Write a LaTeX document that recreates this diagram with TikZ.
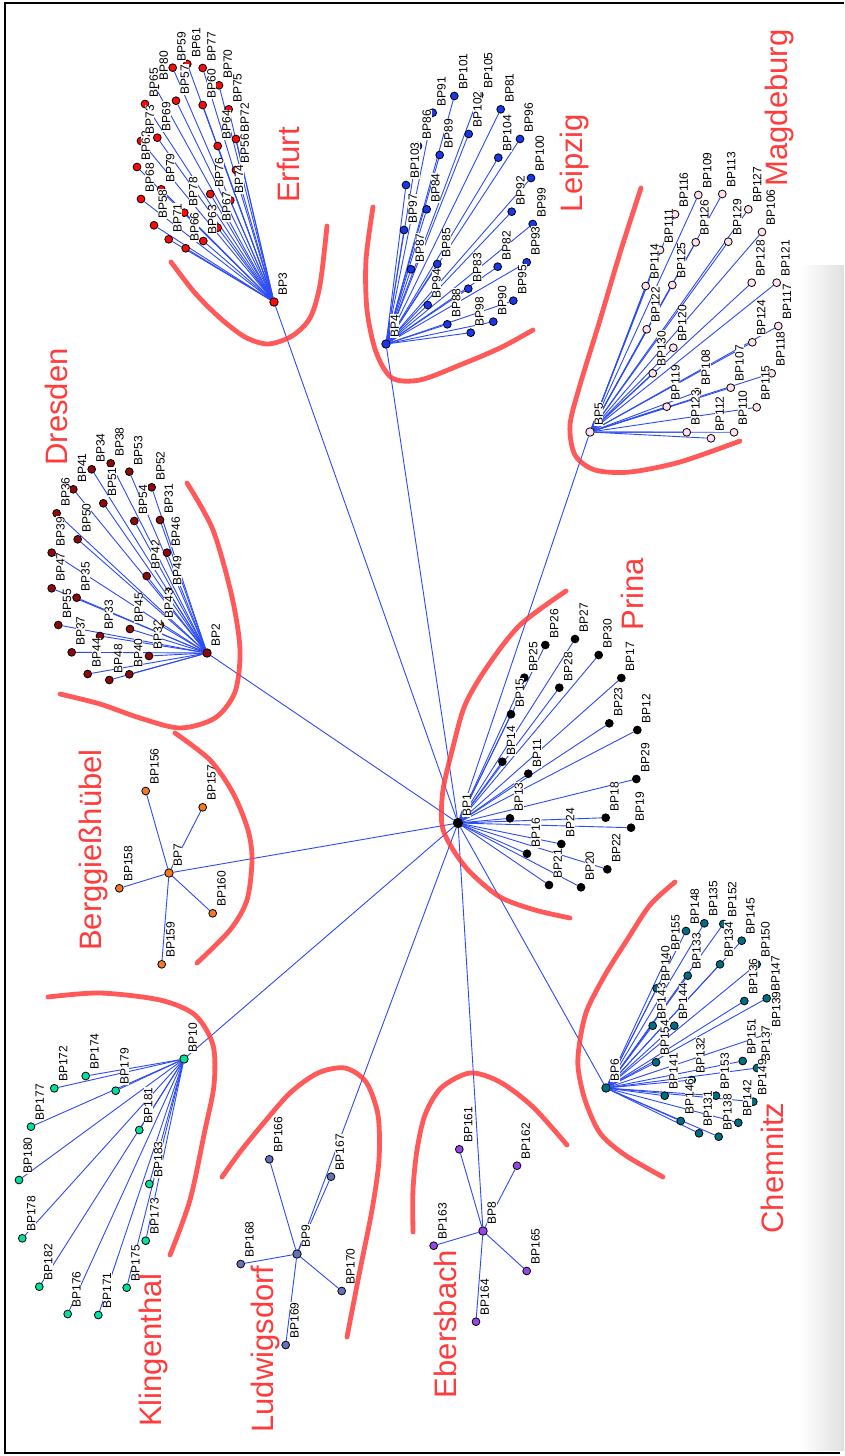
\documentclass[tikz,border=0pt]{standalone}
\usepackage{fontspec}
\setmainfont{Liberation Sans}
\pgfdeclarelayer{back}
\pgfdeclarelayer{bg}
\pgfsetlayers{back,bg,main}
\definecolor{edgeblue}{RGB}{45,75,245}
\definecolor{cityred}{RGB}{255,60,60}
\definecolor{cErf}{RGB}{250,10,10}
\definecolor{cLei}{RGB}{25,55,235}
\definecolor{cMag}{RGB}{255,225,235}
\definecolor{cDre}{RGB}{140,10,10}
\definecolor{cPri}{RGB}{0,0,0}
\definecolor{cChe}{RGB}{0,110,130}
\definecolor{cBer}{RGB}{245,120,40}
\definecolor{cEbe}{RGB}{150,70,230}
\definecolor{cLud}{RGB}{100,115,185}
\definecolor{cKli}{RGB}{0,225,160}
\begin{document}
\begin{tikzpicture}[x=1pt,y=-1pt,
  dot/.style={circle,draw=black,line width=0.8pt,minimum size=7.8pt,inner sep=0pt},
  hub/.style={dot,minimum size=8.5pt},
  edge/.style={draw=edgeblue,line width=0.9pt},
  lbl/.style={rotate=90,anchor=north west,font=\fontsize{12}{13}\selectfont,inner sep=0.4pt,fill=white},
  city/.style={rotate=90,text=cityred,font=\fontsize{31}{36}\selectfont,inner sep=0pt},
  redarc/.style={draw=cityred,line width=4.8pt,line cap=round,line join=round,opacity=0.85}]
\useasboundingbox (0,0) rectangle (844,1456);
\begin{pgfonlayer}{back}
\fill[white] (0,0) rectangle (844,1456);
\shade[left color=white,right color=black!12] (800,265) rectangle (844,1450);
\draw[black,line width=1.4pt] (844,3) -- (5,3) -- (5,1453) -- (840,1453);
\end{pgfonlayer}

% hubs
\node[hub,fill=cPri,minimum size=9.5pt] (BP1) at (458,823) {};
\node[hub,fill=cDre] (BP2) at (207,653) {};
\node[hub,fill=cErf] (BP3) at (274,302) {};
\node[hub,fill=cLei] (BP4) at (386,344) {};
\node[hub,fill=cMag] (BP5) at (590,432) {};
\node[hub,fill=cChe] (BP6) at (606,1088) {};
\node[hub,fill=cBer] (BP7) at (169,873) {};
\node[hub,fill=cEbe] (BP8) at (483,1231) {};
\node[hub,fill=cLud] (BP9) at (297,1254) {};
\node[hub,fill=cKli] (BP10) at (184,1059) {};

% Prina
\foreach \i/\x/\y in {11/528.3/773.7,12/637.3/730,13/510/818.3,14/502.3/761.7,15/511/714.3,
  16/527/853.7,17/621.3/678,18/605.7/817.7,19/631/827.7,20/581/887.3,21/549/885,22/607.3/869.3,
  23/609.3/723.3,24/561.3/844,25/524.3/677.7,26/545.3/645,27/575/639,28/559.3/687.7,29/636.3/779,30/598.7/655}
  \node[dot,fill=cPri] (BP\i) at (\x,\y) {};
% Dresden
\foreach \i/\x/\y in {34/91.7/469.3,38/110.7/463.3,53/129.3/471.7,41/73.3/489.3,52/151.7/487.3,
  51/103.3/503.3,36/56.7/513.3,54/134.3/521,31/160/520,50/77.7/539.3,39/51.7/552.7,46/167/552.7,
  42/146.7/576,47/51.7/588.3,35/76.7/597.7,49/168.3/591.7,55/58.3/625,45/130/629,43/160/625,
  33/100/636,37/71.7/652.3,32/149/656,44/87.7/674,40/129.3/674.3,48/109.3/680}
  \node[dot,fill=cDre] (BP\i) at (\x,\y) {};
% Erfurt
\foreach \i/\x/\y in {61/187.3/64,77/202.7/68,59/172.7/67.7,80/155/86.7,70/219/85.3,57/176/100.7,
  60/202.7/105,75/228.7/109.3,69/157.3/137.7,72/236/139,64/217.7/146,56/236/170,79/161.3/189.3,
  76/210.3/194,74/230.3/200.3,78/184.3/212.7,58/154/225.3,67/217.7/227.7,71/168.7/239.3,
  63/203.3/241,66/185.7/248.3,65/145/104,73/141/141,62/137/167,68/141/199}
  \node[dot,fill=cErf] (BP\i) at (\x,\y) {};
% Leipzig
\foreach \i/\x/\y in {101/454.3/96,91/432.7/112.7,105/479.3/95,81/500.7/109.3,102/468.7/134,
  96/520/139,89/439.7/155,104/498.3/157.7,103/406/185,86/418/146,100/531/178,84/426.7/209.3,
  92/511.7/211.7,97/404/230,99/532.7/224,87/411/269.3,85/437.3/264,82/497.7/266.7,93/526.7/262.3,
  83/468.3/288.7,94/427.7/305,95/513.3/300.7,88/447.3/324.3,90/493.3/321.7,98/470.7/332.7}
  \node[dot,fill=cLei] (BP\i) at (\x,\y) {};
% Magdeburg
\foreach \i/\x/\y in {109/698.3/195,113/722.3/194,116/675/214.3,127/748.3/209.3,126/695.7/242.3,
  129/728.3/241.7,106/762/232,114/645.7/286,125/672.3/285,128/751.7/282.7,121/776.7/282.7,
  122/646.7/329.3,120/673.3/347.7,117/778.3/326,124/752.3/342.3,130/652.7/373.3,118/771.7/373.3,
  107/730.7/387.7,119/666.7/406.7,115/756.7/407.3,123/686.7/432.3,110/734/432.3,112/711/438.3,
  111/660/250,108/697/392}
  \node[dot,fill=cMag] (BP\i) at (\x,\y) {};
% Chemnitz
\foreach \i/\x/\y in {135/704.3/923.3,152/723.3/924,148/686/931,145/741.7/940.7,155/666.7/957.3,
  134/720/964.3,150/756.7/964.3,133/687.7/975.7,140/656.7/988.3,136/744.3/1001,147/766.7/998.3,
  143/652.7/1025.7,144/674.3/1025.7,139/767.3/1034,154/656/1062.3,151/742.7/1061,141/664.7/1095.7,
  153/716/1095.7,149/753.3/1101.7,146/680.7/1121,142/738.3/1122.7,131/699/1133.3,138/718.7/1136.7,
  132/691.7/1080,137/757/1068}
  \node[dot,fill=cChe] (BP\i) at (\x,\y) {};
% Berggiesshuebel
\foreach \i/\x/\y in {156/145.7/791,157/202.7/807.3,158/119.3/888.3,160/212.7/913.3,159/161.7/964.3}
  \node[dot,fill=cBer] (BP\i) at (\x,\y) {};
% Ebersbach
\foreach \i/\x/\y in {161/459.3/1149.3,162/517/1165.7,163/433.7/1245.7,165/526.7/1271,164/476/1321.7}
  \node[dot,fill=cEbe] (BP\i) at (\x,\y) {};
% Ludwigsdorf
\foreach \i/\x/\y in {166/269.3/1159.3,167/331/1176.7,168/240.7/1264,170/341.7/1291,169/285.7/1345}
  \node[dot,fill=cLud] (BP\i) at (\x,\y) {};
% Klingenthal
\foreach \i/\x/\y in {174/85.7/1076,172/54.3/1088.3,179/115.7/1090.7,177/31/1126.7,181/139.3/1130,
  180/19/1180,183/149.3/1184,178/22.3/1238.3,173/145.7/1240.7,182/39.3/1286.7,175/126.7/1287.7,
  176/67.7/1314,171/98.3/1315}
  \node[dot,fill=cKli] (BP\i) at (\x,\y) {};

% connectors
\begin{pgfonlayer}{bg}
\foreach \h in {2,...,10} \draw[edge] (BP1) -- (BP\h);
\foreach \i in {11,...,30} \draw[edge] (BP1) -- (BP\i);
\foreach \i in {31,...,55} \draw[edge] (BP2) -- (BP\i);
\foreach \i in {56,...,80} \draw[edge] (BP3) -- (BP\i);
\foreach \i in {81,...,105} \draw[edge] (BP4) -- (BP\i);
\foreach \i in {106,...,130} \draw[edge] (BP5) -- (BP\i);
\foreach \i in {131,...,155} \draw[edge] (BP6) -- (BP\i);
\foreach \i in {156,...,160} \draw[edge] (BP7) -- (BP\i);
\foreach \i in {161,...,165} \draw[edge] (BP8) -- (BP\i);
\foreach \i in {166,...,170} \draw[edge] (BP9) -- (BP\i);
\foreach \i in {171,...,183} \draw[edge] (BP10) -- (BP\i);
\end{pgfonlayer}

% labels
\foreach \i in {1,...,183}
  \node[lbl] (L\i) at ([shift={(4,-6)}]BP\i.center) {BP\i};

% red arcs
\draw[redarc] plot[smooth] coordinates {(171,262) (195,293) (220,318) (245,337) (268,344) (292,336) (310,318) (320,285) (327,226)};
\draw[redarc] plot[smooth] coordinates {(373,207) (366,260) (367,310) (376,352) (392,378) (420,380) (460,365) (500,348) (533,330)};
\draw[redarc] plot[smooth] coordinates {(641,188) (620,253) (600,320) (580,385) (570,425) (575,455) (595,470) (630,472) (680,462) (740,441)};
\draw[redarc] plot[smooth] coordinates {(187,483) (213,530) (232,597) (240,650) (235,692) (215,718) (180,728) (140,718) (100,704) (60,694)};
\draw[redarc] plot[smooth] coordinates {(566,591) (520,625) (487,667) (465,705) (453,747) (443,790) (442,825) (452,848) (470,872) (500,897) (535,910) (570,918)};
\draw[redarc] plot[smooth] coordinates {(175,733) (210,760) (233,793) (248,830) (252,860) (247,900) (230,930) (197,963)};
\draw[redarc] plot[smooth] coordinates {(675,882) (650,905) (627,940) (605,975) (587,1010) (580,1040) (578,1067) (585,1100) (600,1133) (625,1155) (663,1177)};
\draw[redarc] plot[smooth] coordinates {(48,997) (100,993) (160,1000) (195,1015) (213,1045) (214,1085) (205,1130) (190,1200) (170,1255)};
\draw[redarc] plot[smooth] coordinates {(222,1177) (240,1152) (262,1125) (290,1093) (318,1073) (345,1068) (366,1082) (378,1115) (379,1160) (372,1210) (360,1270) (347,1337)};
\draw[redarc] plot[smooth] coordinates {(413,1232) (413,1190) (417,1150) (425,1115) (441,1088) (470,1073) (500,1082) (533,1107) (567,1145)};

% city names
\node[city] (cErfurt) at (288,165) {Erfurt};
\node[city] (cLeipzig) at (574,163) {Leipzig};
\node[city] (cMagdeburg) at (779,108) {Magdeburg};
\node[city] (cDresden) at (56,407) {Dresden};
\node[city] (cPrina) at (632,594) {Prina};
\node[city] (cBerg) at (93,850) {Berggießhübel};
\node[city] (cChemnitz) at (772,1168) {Chemnitz};
\node[city] (cKling) at (153,1350) {Klingenthal};
\node[city] (cLudw) at (265,1349) {Ludwigsdorf};
\node[city] (cEbers) at (445,1324) {Ebersbach};
\end{tikzpicture}
\end{document}
